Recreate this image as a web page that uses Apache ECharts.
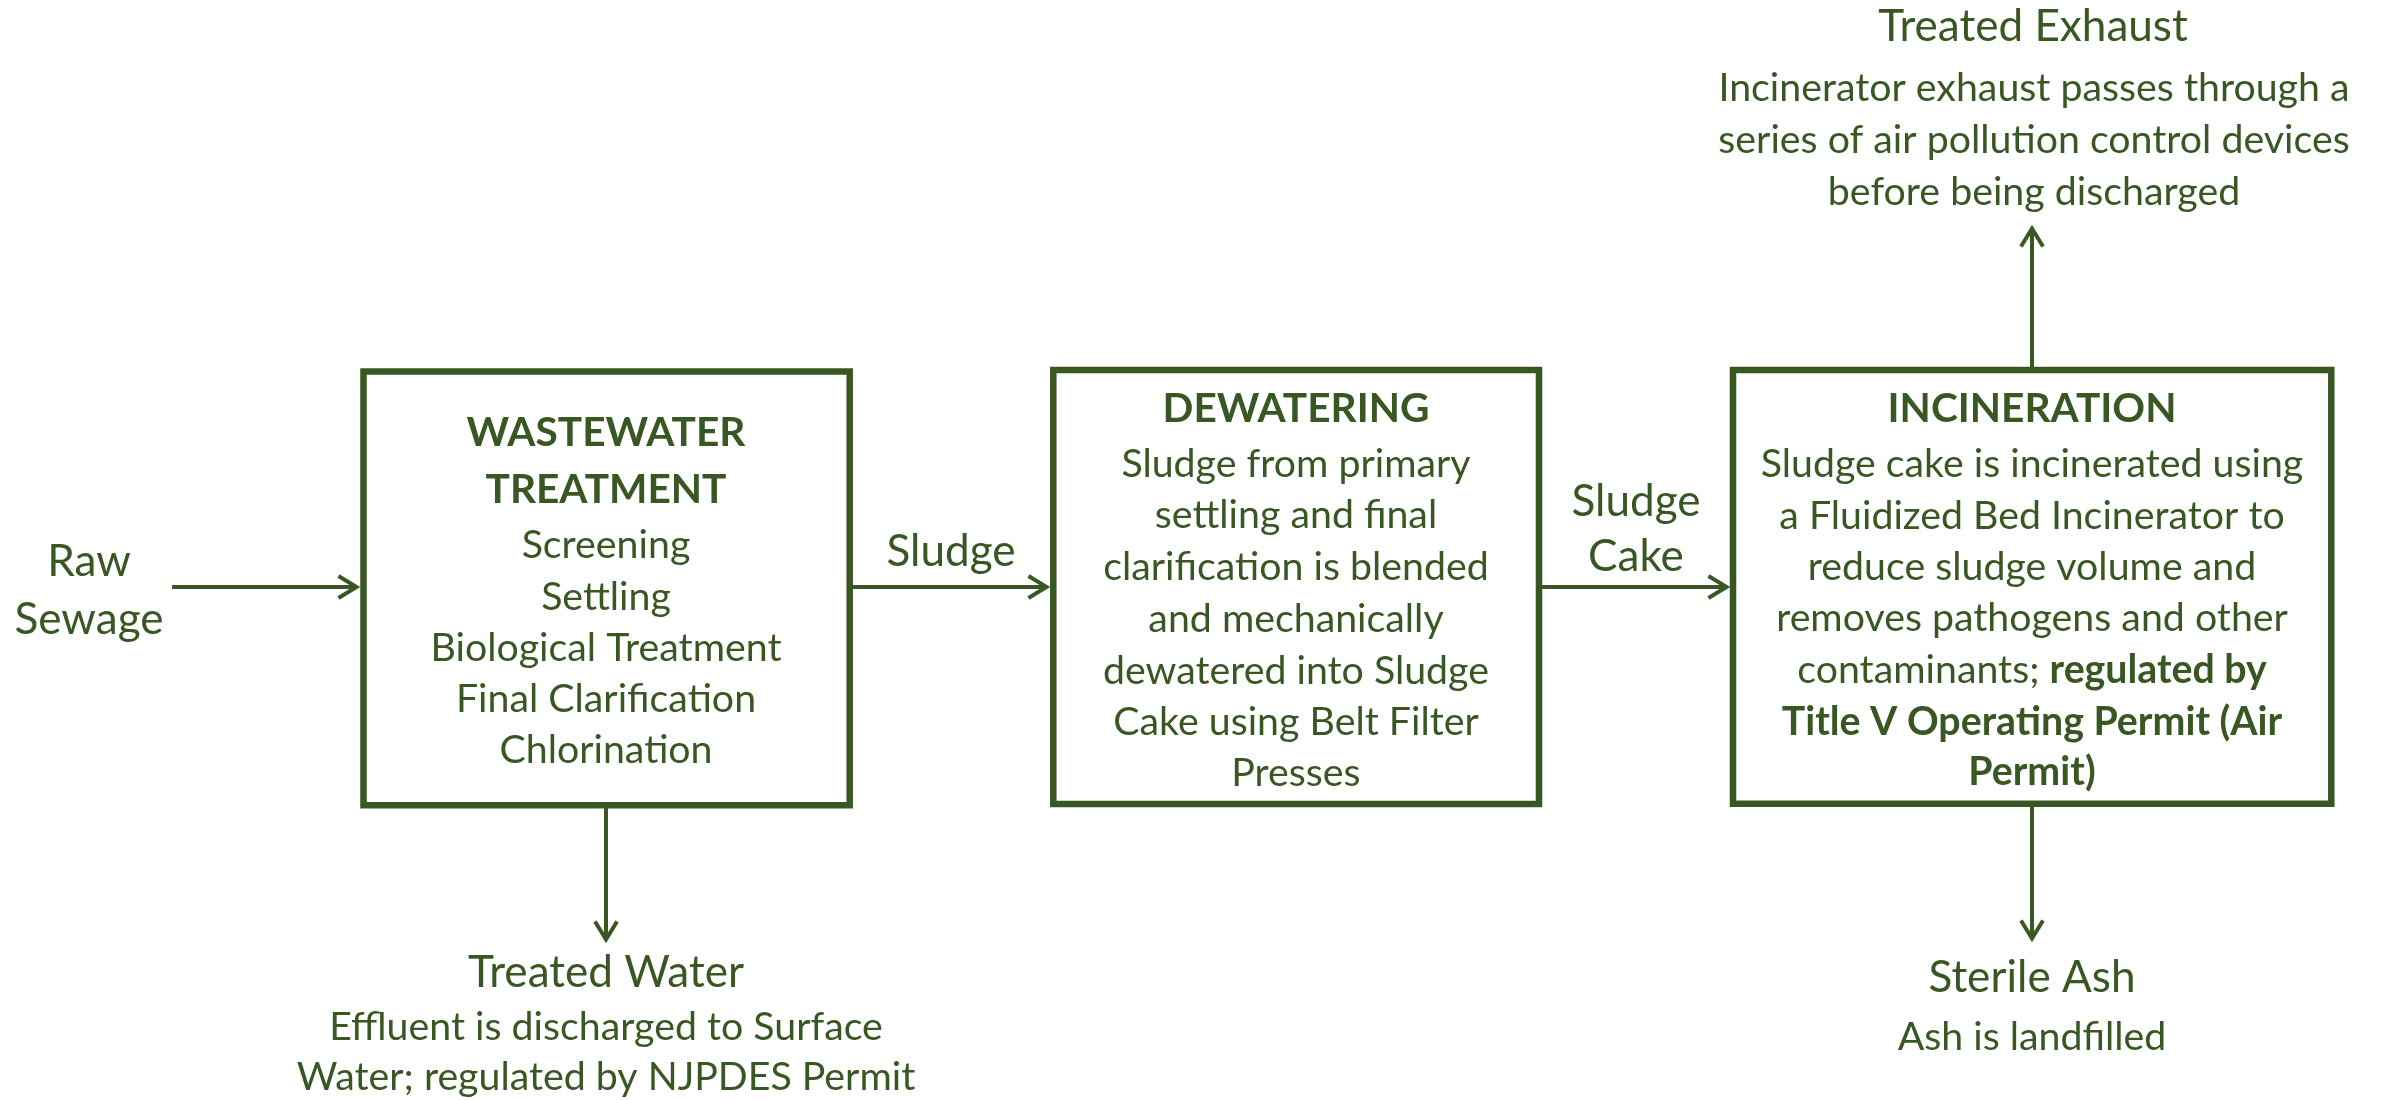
<!DOCTYPE html>
<html><head><meta charset="utf-8">
<script src="https://cdn.jsdelivr.net/npm/echarts@6/dist/echarts.min.js"></script>
<style>html,body{margin:0;padding:0;background:#fff}#c{width:2382px;height:1100px}</style>
</head><body><div id="c"></div>
<script>
// ---------- Diagram content ----------
const stageNames = ['WASTEWATER TREATMENT', 'DEWATERING', 'INCINERATION'];
const stageLeft   = [363.5, 1053.3, 1733];
const stageRight  = [849.7, 1539, 2331.3];
const stageTop    = [371.5, 370, 370];
const stageBottom = [805.3, 804, 803.7];

const flowNames = ['Raw Sewage', 'Sludge', 'Sludge Cake', 'Treated Water', 'Treated Exhaust', 'Sterile Ash'];
const flowFromX = [172, 850, 1539, 606, 2032, 2032];
const flowFromY = [587, 587, 587, 806, 370, 804];
const flowToX   = [360, 1050, 1730, 606, 2032, 2032];
const flowToY   = [587, 587, 587, 943, 225, 942];

const rawSewageLabel = ['Raw', 'Sewage'];
const sludgeLabel = ['Sludge'];
const sludgeCakeLabel = ['Sludge', 'Cake'];
const wastewaterTitle = ['WASTEWATER', 'TREATMENT'];
const wastewaterSteps = ['Screening', 'Settling', 'Biological Treatment', 'Final Clarification', 'Chlorination'];
const dewateringTitle = ['DEWATERING'];
const dewateringText = ['Sludge from primary', 'settling and final', 'clarification is blended', 'and mechanically', 'dewatered into Sludge', 'Cake using Belt Filter', 'Presses'];
const incinerationTitle = ['INCINERATION'];
const incinerationText = ['Sludge cake is incinerated using', 'a Fluidized Bed Incinerator to', 'reduce sludge volume and', 'removes pathogens and other', 'contaminants; {b|regulated by}', '{b|Title V Operating Permit (Air}', '{b|Permit)}'];
const treatedWaterTitle = ['Treated Water'];
const treatedWaterText = ['Effluent is discharged to Surface', 'Water; regulated by NJPDES Permit'];
const exhaustTitle = ['Treated Exhaust'];
const exhaustText = ['Incinerator exhaust passes through a', 'series of air pollution control devices', 'before being discharged'];
const ashTitle = ['Sterile Ash'];
const ashText = ['Ash is landfilled'];

// ---------- Layout (centre x, line centre y list, role) ----------
const blocks = [
  { lines: rawSewageLabel,   cx: 89,   ys: [562, 620], role: 'head' },
  { lines: sludgeLabel,      cx: 951,  ys: [552], role: 'head' },
  { lines: sludgeCakeLabel,  cx: 1636, ys: [502, 557], role: 'head' },
  { lines: wastewaterTitle,  cx: 606,  ys: [433, 490], role: 'title' },
  { lines: wastewaterSteps,  cx: 606,  ys: [545, 597, 648, 699, 750], role: 'body' },
  { lines: dewateringTitle,  cx: 1296, ys: [409], role: 'title' },
  { lines: dewateringText,   cx: 1296, ys: [464, 515, 567, 619, 671, 722, 773], role: 'body' },
  { lines: incinerationTitle, cx: 2032, ys: [409], role: 'title' },
  { lines: incinerationText, cx: 2032, ys: [464, 516, 567, 618, 670, 722, 772], role: 'body' },
  { lines: treatedWaterTitle, cx: 606, ys: [973], role: 'head' },
  { lines: treatedWaterText, cx: 606,  ys: [1027, 1077], role: 'body' },
  { lines: exhaustTitle,     cx: 2033, ys: [27], role: 'head' },
  { lines: exhaustText,      cx: 2034, ys: [88, 140, 192], role: 'body' },
  { lines: ashTitle,         cx: 2032, ys: [978], role: 'head' },
  { lines: ashText,          cx: 2032, ys: [1037], role: 'body' }
];

const GREEN = '#385723';
const FONT = "Lato, 'Open Sans', 'Noto Sans', sans-serif";

// size fonts so that reference strings have the reference widths
const mctx = document.createElement('canvas').getContext('2d');
function fit(text, target, weight) {
  mctx.font = weight + ' 100px ' + FONT;
  return 100 * target / mctx.measureText(text).width;
}
const SIZES = {
  body:  { size: fit('Biological Treatment', 351, 'normal'), weight: 'normal' },
  head:  { size: fit('Treated Water', 276, 'normal'), weight: 'normal' },
  title: { size: fit('WASTEWATER', 279, 'bold'), weight: 'bold' }
};

const textItems = [];
blocks.forEach(b => b.lines.forEach((t, i) => textItems.push({ value: [b.cx, b.ys[i]], text: t, role: b.role })));

const chart = echarts.init(document.getElementById('c'), null, { renderer: 'canvas' });
chart.setOption({
  animation: false,
  backgroundColor: '#ffffff',
  grid: { left: 0, right: 0, top: 0, bottom: 0 },
  xAxis: { type: 'value', min: 0, max: 2382, show: false },
  yAxis: { type: 'value', min: 0, max: 1100, inverse: true, show: false },
  series: [
    {
      type: 'custom', name: 'stages', clip: false, silent: true,
      data: stageNames.map((n, i) => ({ name: n, value: [stageLeft[i], stageTop[i], stageRight[i], stageBottom[i]] })),
      renderItem: (params, api) => {
        const p0 = api.coord([api.value(0), api.value(1)]);
        const p1 = api.coord([api.value(2), api.value(3)]);
        return { type: 'rect', shape: { x: p0[0], y: p0[1], width: p1[0] - p0[0], height: p1[1] - p0[1] },
                 style: { fill: '#fff', stroke: GREEN, lineWidth: 6.5 } };
      }
    },
    {
      type: 'custom', name: 'flows', clip: false, silent: true,
      data: flowNames.map((n, i) => ({ name: n, value: [flowFromX[i], flowFromY[i], flowToX[i], flowToY[i]] })),
      renderItem: (params, api) => {
        const a = api.coord([api.value(0), api.value(1)]);
        const t = api.coord([api.value(2), api.value(3)]);
        const dx = t[0] - a[0], dy = t[1] - a[1];
        const L = Math.hypot(dx, dy), ux = dx / L, uy = dy / L;
        const back = 18, half = 11, inset = 3.5;
        const b = [t[0] - ux * inset, t[1] - uy * inset];
        const w1 = [b[0] - ux * back - uy * half, b[1] - uy * back + ux * half];
        const w2 = [b[0] - ux * back + uy * half, b[1] - uy * back - ux * half];
        return { type: 'group', children: [
          { type: 'line', shape: { x1: a[0], y1: a[1], x2: b[0], y2: b[1] }, style: { stroke: GREEN, lineWidth: 4 } },
          { type: 'polyline', shape: { points: [w1, b, w2] }, style: { stroke: GREEN, lineWidth: 4, fill: null, lineJoin: 'miter' } }
        ] };
      }
    },
    {
      type: 'custom', name: 'texts', clip: false, silent: true,
      data: textItems.map(t => ({ value: t.value })),
      renderItem: (params, api) => {
        const it = textItems[params.dataIndex];
        const p = api.coord([api.value(0), api.value(1)]);
        const s = SIZES[it.role];
        return { type: 'text', x: p[0], y: p[1], style: {
          text: it.text, fill: GREEN, fontSize: s.size, fontFamily: FONT, fontWeight: s.weight,
          align: 'center', verticalAlign: 'middle',
          rich: { b: { fontSize: s.size, fontFamily: FONT, fontWeight: 'bold', fill: GREEN } }
        } };
      }
    }
  ]
});
</script>
</body></html>
